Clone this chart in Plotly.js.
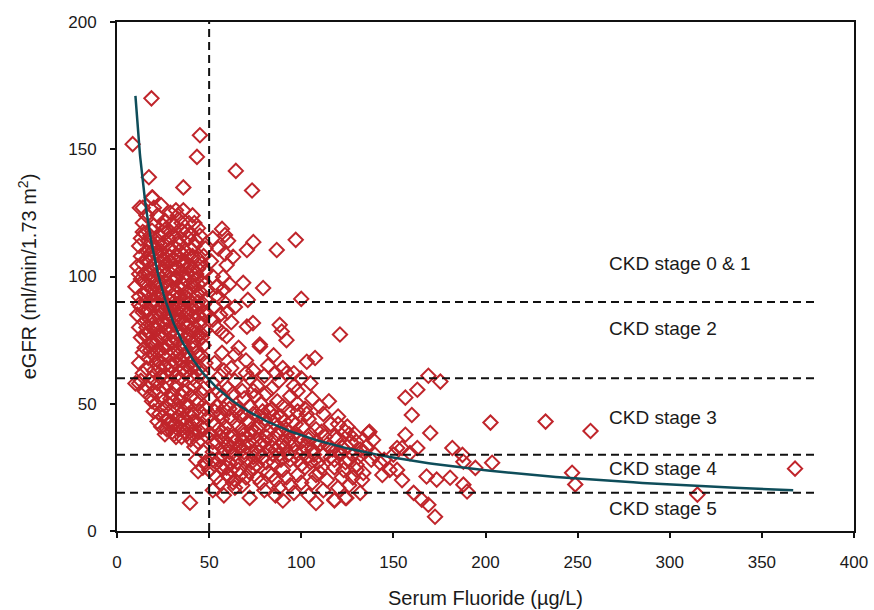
<!DOCTYPE html>
<html><head><meta charset="utf-8">
<script src="https://cdn.plot.ly/plotly-3.0.1.min.js"></script>
<style>html,body{margin:0;padding:0;background:#fff}#chart{width:874px;height:610px}</style>
</head><body><div id="chart"></div>
<script>
// Serum fluoride (µg/L), eGFR (ml/min/1.73 m²) pairs
const coreCluster = [
[14,127],[19,131],[22,124],[26,122],[29,125],[33,124],[36,126],[39,121],[41,124],[44,119],[24,128],[31,120],
[12,112],[15,117],[17,114],[19,118],[21,111],[23,116],[25,113],[27,119],[29,111],[31,116],[33,113],[35,118],[37,110],[39,115],[42,112],[45,116],[48,111],[20,120],[28,115],[34,110],[16,110],
[11,104],[13,108],[15,101],[17,106],[19,103],[21,109],[23,104],[25,107],[27,101],[29,106],[31,103],[33,108],[35,102],[37,106],[39,104],[41,108],[43,101],[46,105],[48,102],[18,109],[26,104],[32,100],[38,101],[44,107],[14,105],[22,101],
[10,96],[12,92],[14,98],[16,94],[18,99],[20,91],[22,96],[24,93],[26,98],[28,91],[30,95],[32,99],[34,92],[36,97],[38,94],[40,90],[42,96],[44,93],[46,98],[48,91],[15,90],[19,95],[25,90],[31,92],[37,99],[43,99],[27,96],[35,95],[23,98],[49,95],
[11,85],[13,88],[15,82],[17,87],[19,84],[21,89],[23,81],[25,86],[27,83],[29,88],[31,81],[33,85],[35,89],[37,82],[39,86],[41,84],[43,88],[45,81],[47,86],[20,80],[26,89],[32,87],[38,80],[44,85],[16,80],[30,84],[36,86],
[13,76],[15,72],[17,78],[19,74],[21,79],[23,71],[25,76],[27,73],[29,78],[31,70],[33,75],[35,79],[37,72],[39,77],[41,74],[43,70],[45,78],[47,73],[22,75],[30,74],[38,70],[44,75],[18,71],
[12,66],[14,62],[17,68],[20,63],[22,67],[24,61],[26,65],[28,69],[30,62],[32,66],[34,60],[36,64],[38,68],[40,61],[42,65],[44,69],[46,62],[48,66],[19,60],[27,61],[35,67],[41,60],
[14,121],[18,116],[22,113],[26,117],[30,121],[34,115],[38,118],[42,121],[16,107],[20,105],[24,110],[28,108],[32,111],[36,104],[40,111],[44,103],
[13,99],[17,101],[21,98],[25,102],[29,99],[33,96],[37,92],[41,98],[45,94],[15,93],[19,89],[23,93],[27,88],[31,90],[35,87],[39,91],[43,92],[47,89],
[14,86],[18,83],[22,86],[26,82],[30,87],[34,83],[38,85],[42,80],[46,83],[16,77],[20,73],[24,78],[28,75],[32,78],[36,74],[40,79],[44,77],[48,79],
[21,66],[25,69],[29,65],[33,69],[37,62],[41,67],[45,64],[23,64],
[16,124],[20,127],[25,120],[28,118],[32,126],[35,121],[40,117],[43,114],[13,115],[18,112],[23,108],[27,105],[31,107],[35,106],[39,108],[47,108],
[12,101],[16,97],[20,100],[24,96],[28,102],[32,94],[36,100],[40,102],[44,97],[12,89],[16,86],[20,93],[24,88],[28,85],[32,89],[36,91],[40,87],[44,90],[48,85],
[12,80],[15,77],[19,81],[23,84],[27,79],[31,83],[35,77],[39,82],[43,78],[46,76],[14,70],[18,74],[22,70],[26,72],[30,67],[34,72],[38,65],[42,72],[46,69],
[16,64],[20,69],[28,63],[32,61],[36,69],[40,64],[44,61]
];
const lowerLeftBand = [
[10,58],[13,59],[16,57],[18,53],[20,55],[22,58],[24,52],[26,56],[28,50],[30,54],[32,57],[34,51],[36,55],[38,49],[40,53],[42,57],[44,50],[46,54],[48,48],
[21,50],[23,46],[25,48],[27,44],[29,47],[31,42],[33,45],[35,40],[37,44],[39,41],[41,46],[43,43],[45,39],[47,45],
[24,41],[26,38],[28,42],[30,39],[32,37],[34,43],[36,47],[38,38],[40,36],[42,40],[44,35],[46,41],[49,37],[22,43],[20,47],[19,51],[12,58],
[47,31],[42,33],[48,27],[43,28],[46.6,24.9],[44,23.5],
[15,55],[19,58],[23,55],[27,58],[31,51],[35,53],[39,56],[43,52],[47,56],[25,45],[29,43],[33,48],[37,39],[41,43],[45,47],
[27,40],[31,38],[35,37],[39,46],[43,38],[47,40],[29,52],[33,40],[37,50],[41,38]
];
const upperRightSparse = [
[57,118.7],[58.6,116.3],[60.3,114],[74,113.5],[70.5,110.4],[86.7,110.4],[58.6,109],[63,107.7],[68.5,97.5],[79.3,95.5],[71,90.8],[57.6,99.8],[59.5,104.5],[57.6,94.8],
[52,100],[54,96],[55,92],[53,88],[56,85],[52,83],[58,90],[60,86],[54,80],[57,78],[62,82],[51,106],[55,111],[52,115],[61,97],[64,88],
[70.5,80.3],[73.8,81.7],[88.3,81],[89.4,78.4],[92,75],[77.5,73.3],[59.5,76.5],[77.6,72.5],[64,69.3],[103,66.5],[107.5,68],
[53,66],[57,70],[62,64],[66,72],[70,67],[74,63],[82,65],[90,64],[96,62],[58,63],[85,69]
];
const midCluster = [
[52,58],[56,61],[60,56],[64,59],[68,55],[72,60],[76,57],[80,61],[84,56],[88,59],[92,62],[96,57],[100,60],[55,55],[70,62],[86,62],[98,55],[105,58],
[51,52],[54,49],[57,53],[60,50],[63,54],[66,48],[69,52],[72,49],[75,53],[78,50],[81,54],[84,48],[87,51],[90,49],[94,53],[98,50],[102,48],[106,52],[110,49],[115,51],[58,48],[74,55],
[50,45],[53,42],[56,46],[59,41],[62,44],[65,47],[68,40],[71,43],[74,46],[77,41],[80,44],[83,47],[86,42],[89,45],[92,40],[95,43],[98,47],[101,41],[104,44],[108,40],[112,46],[116,42],[120,45],[125,41],[55,40],[67,45],[79,47],[91,43],[103,46],
[51,38],[54,35],[57,39],[60,34],[63,37],[66,33],[69,38],[72,35],[75,39],[78,34],[81,37],[84,33],[87,38],[90,35],[93,39],[96,34],[99,37],[102,33],[105,38],[108,35],[111,39],[114,34],[118,37],[122,33],[126,38],[130,35],[58,36],[70,33],[82,39],[94,36],
[52,31],[55,28],[58,32],[61,27],[64,30],[67,33],[70,28],[73,31],[76,26],[79,29],[82,32],[85,27],[88,30],[91,33],[94,28],[97,31],[100,26],[103,29],[106,32],[109,27],[112,30],[115,33],[118,28],[121,31],[124,27],[128,30],[132,32],[62,33],[74,29],[86,32],[98,28],[110,34],
[50,24],[54,21],[57,25],[60,22],[63,19],[66,24],[70,21],[74,25],[78,19],[82,23],[86,20],[90,24],[94,18],[98,22],[102,25],[106,19],[110,23],[114,20],[118,25],[122,21],[126,18],[130,24],[68,18],[88,17],[120,17],
[52,16],[58,14],[64,17],[72,13],[80,16],[90,12],[96,15],[104,14],[112,16],[118,12],[124,13],[132,15],[86,14],[108,11],
[52,28],[59.5,24.9],[64,20],[61,21.4],
[53,47],[57,44],[61,48],[65,42],[69,46],[73,40],[77,45],[81,42],[85,45],[89,40],[93,47],[97,42],
[52,35],[56,37],[60,38],[64,35],[68,36],[72,38],[76,36],[80,35],[84,36],[88,33],[92,37],[96,38],[100,35],[104,36],[107,30],[113,37],[117,32],
[53,26],[57,30],[61,31],[65,27],[69,31],[73,27],[77,31],[81,27],[85,30],[89,28],[93,30],[101,31],[105,27],[111,25],[116,29],
[56,19],[62,24],[67,22],[72,23],[76,21],[84,22],[92,21],[100,19],[108,22]
];
const tailPoints = [
[169,61],[175.5,58.7],[163,55.5],[156.5,52.4],[160,45.6],[202.7,42.6],[156.5,37.8],[170,38.5],[136.5,38.5],[152,32.6],[163,32.6],[182,32.6],[187.5,29.9],[188,27.2],[194.5,24.8],[203.6,26.8],[159,30.6],[142.7,26.8],[152,24],[154.7,20],[168,21.4],[173.5,20.2],[180.8,20.9],[188,18.2],[190,15.5],[161,15],[165.4,12.3],[169,10.3],[172.6,5.6],[133.7,22.8],[133,20.1],[118,12.3],[124.5,13],[137,39],[139,35.8],[135.5,33.2],[154.7,32.6],
[120,42],[124,39],[127,35],[121,30],[126,28],[130,26],[123,24],[128,21],[131,29],[134,31],[138,28],[125,33],[119,36],[129,38],[140,30],[145,28],[148,24],[150,30],[144,22],
[232.6,43],[257,39.3],[247,22.9],[248.7,18.3],[315,14.3],[368,24.5]
];
const outliers = [
[8.5,152],[18.7,170],[45,155.5],[43.4,147],[64.5,141.5],[73.3,133.8],[36,135],[17.3,139],[19.3,131],[12.4,127],[14,117.5],[97,114.4],[100,91.2],[121,77.2],[39.6,11.1]
];

// Stage boundaries and labels
const stageCutoffs = [90, 60, 30, 15];
const stageLineEnd = 380;
const fluorideCutoff = 50;
const stageLabels = ['CKD stage 0 &amp; 1', 'CKD stage 2', 'CKD stage 3', 'CKD stage 4', 'CKD stage 5'];
const stageLabelY = [105, 79.5, 44.5, 24.5, 9];
const stageLabelX = 266;

// Power-law fit eGFR = a * F^b
const fitA = 777, fitB = -0.6575, fitFrom = 10, fitTo = 367;

const xTicks = [0, 50, 100, 150, 200, 250, 300, 350, 400];
const yTicks = [0, 50, 100, 150, 200];

const allPts = [].concat(coreCluster, lowerLeftBand, upperRightSparse, midCluster, tailPoints, outliers);
const px = allPts.map(p => p[0]);
const py = allPts.map(p => p[1]);

const fx = [], fy = [];
for (let i = 0; i <= 200; i++) {
  const x = fitFrom * Math.pow(fitTo / fitFrom, i / 200);
  fx.push(x); fy.push(fitA * Math.pow(x, fitB));
}

const RED = '#c0252b';
const traces = [
  {x: px, y: py, type: 'scatter', mode: 'markers', hoverinfo: 'x+y',
   marker: {symbol: 'diamond-open', size: 11, color: RED, line: {color: RED, width: 2}}},
  {x: fx, y: fy, type: 'scatter', mode: 'lines', hoverinfo: 'skip',
   line: {color: '#0e4d5a', width: 2.5}}
];

const shapes = stageCutoffs.map(v => ({type: 'line', xref: 'x', yref: 'y', x0: 0, x1: stageLineEnd, y0: v, y1: v,
  layer: 'above', line: {color: '#111', width: 2, dash: '8px,5px'}}));
shapes.push({type: 'line', xref: 'x', yref: 'y', x0: fluorideCutoff, x1: fluorideCutoff, y0: 0, y1: 200,
  layer: 'above', line: {color: '#111', width: 2, dash: '8px,5px'}});

const annotations = stageLabels.map((t, i) => ({text: t, x: stageLabelX, y: stageLabelY[i], xref: 'x', yref: 'y',
  xanchor: 'left', yanchor: 'middle', showarrow: false, font: {size: 19, color: '#1a1a1a'}}));

const axisCommon = {showline: true, linecolor: '#111', linewidth: 2, mirror: true, ticks: 'outside', ticklen: 5,
  tickwidth: 2, tickcolor: '#111', showgrid: false, zeroline: false, tickfont: {size: 17, color: '#1a1a1a'}, ticklabelstandoff: 10};

const layout = {
  width: 874, height: 610,
  margin: {l: 117, r: 20, t: 22, b: 79},
  paper_bgcolor: '#fff', plot_bgcolor: '#fff',
  font: {family: '"Liberation Sans", Arial, sans-serif', color: '#1a1a1a'},
  showlegend: false,
  xaxis: Object.assign({}, axisCommon, {range: [0, 400], tickvals: xTicks, ticktext: xTicks.map(String),
    title: {text: 'Serum Fluoride (µg/L)', font: {size: 20}, standoff: 20}}),
  yaxis: Object.assign({}, axisCommon, {range: [0, 200], tickvals: yTicks, ticktext: yTicks.map(String),
    title: {text: 'eGFR (ml/min/1.73 m<sup>2</sup>)', font: {size: 20}, standoff: 26}}),
  shapes: shapes,
  annotations: annotations
};

Plotly.newPlot('chart', traces, layout, {displayModeBar: false, staticPlot: true});
</script>
</body></html>
